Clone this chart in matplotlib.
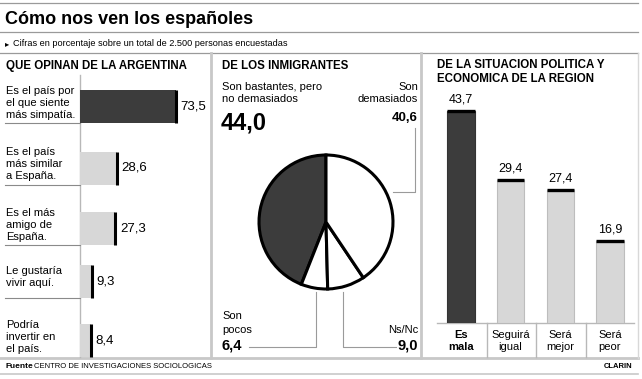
import matplotlib
matplotlib.use("Agg")
from matplotlib import pyplot as plt

plt.rcParams['font.family'] = ['Liberation Sans Narrow', 'Liberation Sans', 'DejaVu Sans']

# data
opinion_labels = ["Es el país por\nel que siente\nmás simpatía.",
                  "Es el país\nmás similar\na España.",
                  "Es el más\namigo de\nEspaña.",
                  "Le gustaría\nvivir aquí.",
                  "Podría\ninvertir en\nel país."]
opinion_values = [73.5, 28.6, 27.3, 9.3, 8.4]

immig_labels = ["Son bastantes, pero\nno demasiados", "Son\npocos", "Ns/Nc", "Son\ndemasiados"]
immig_values = [44.0, 6.4, 9.0, 40.6]

region_labels = ["Es\nmala", "Seguirá\nigual", "Será\nmejor", "Será\npeor"]
region_values = [43.7, 29.4, 27.4, 16.9]

DARK = "#3c3c3c"
LIGHT = "#d7d7d7"
GRID = "#b8b8b8"
W, H = 642, 379


def fmt(v):
    return f"{v:.1f}".replace(".", ",")


def px_axes(x0, y0, x1, y1):
    return fig.add_axes([x0 / W, 1 - y1 / H, (x1 - x0) / W, (y1 - y0) / H])


fig = plt.figure(figsize=(6.42, 3.79), dpi=100)
fig.patch.set_facecolor("white")

# overlay in pixel coordinates for frame, texts
ov = fig.add_axes([0, 0, 1, 1])
ov.set_xlim(0, W)
ov.set_ylim(H, 0)
ov.axis("off")

for y in [3, 32, 53]:
    ov.plot([0, 638], [y, y], color="#9a9a9a", lw=0.9)
ov.plot([0, 638], [358, 358], color="#c8c8c8", lw=2)
ov.plot([0, 638], [374, 374], color="#c8c8c8", lw=1.2)
for x in [211, 421]:
    ov.plot([x, x], [53, 358], color="#c8c8c8", lw=2)
ov.plot([638, 638], [53, 358], color="#d8d8d8", lw=1)

ov.text(5, 19, "Cómo nos ven los españoles", fontsize=13, fontweight="bold", va="center")
ov.text(5, 43.5, "▸", fontsize=6, va="center", family="DejaVu Sans")
ov.text(13, 43.5, "Cifras en porcentaje sobre un total de 2.500 personas encuestadas", fontsize=6.6, va="center")
ov.text(5, 366, "Fuente", fontsize=6, fontweight="bold", va="center")
ov.text(34, 366, "CENTRO DE INVESTIGACIONES SOCIOLOGICAS", fontsize=5.5, va="center")
ov.text(632, 366, "CLARIN", fontsize=5.5, fontweight="bold", va="center", ha="right")

# ---- left panel
ov.text(6, 66, "QUE OPINAN DE LA ARGENTINA", fontsize=8.3, fontweight="bold", va="center")
bar_centers = [106.5, 168, 228.5, 281, 340.5]
bar_h = 33
ov.plot([80, 80], [75, 357], color=GRID, lw=1)
for i, lab in enumerate(opinion_labels):
    c = bar_centers[i]
    ov.text(6, c - 4, lab, fontsize=8, va="center", linespacing=1.25)
    if i < len(opinion_labels) - 1:
        ov.plot([5, 80], [c + bar_h / 2, c + bar_h / 2], color="#8a8a8a", lw=0.8)

axl = px_axes(80, 53, 210, 358)
axl.set_xlim(0, 100)
axl.set_ylim(358, 53)
axl.axis("off")
colors = [DARK] + [LIGHT] * (len(opinion_values) - 1)
axl.barh(bar_centers, opinion_values, height=bar_h, color=colors, edgecolor="none")
for c, v in zip(bar_centers, opinion_values):
    axl.plot([v, v], [c - bar_h / 2, c + bar_h / 2], color="black", lw=2.2, solid_capstyle="butt")
    axl.text(v + 3.5, c, fmt(v), fontsize=9.5, va="center")

# ---- middle panel
ov.text(222, 66, "DE LOS INMIGRANTES", fontsize=8.3, fontweight="bold", va="center")
axp = px_axes(326 - 69, 222 - 69, 326 + 69, 222 + 69)
axp.pie(immig_values, colors=[DARK, "white", "white", "white"], startangle=90,
        counterclock=True, radius=1,
        wedgeprops=dict(edgecolor="black", linewidth=2.2))
axp.set_xlim(-1.03, 1.03)
axp.set_ylim(-1.03, 1.03)
axp.set_aspect("equal")

ov.text(222, 82, immig_labels[0], fontsize=8, va="top", linespacing=1.25)
ov.text(221, 123, fmt(immig_values[0]), fontsize=17, fontweight="bold", va="center")
ov.text(418, 82, immig_labels[3], fontsize=8, va="top", ha="right", linespacing=1.25)
ov.text(418, 118, fmt(immig_values[3]), fontsize=9.5, fontweight="bold", va="center", ha="right")
ov.plot([415, 415, 393], [128, 192, 192], color="#9a9a9a", lw=0.8)

ov.text(222, 323, immig_labels[1], fontsize=8, va="center", linespacing=1.6)
ov.text(222, 346, fmt(immig_values[1]), fontsize=10.5, fontweight="bold", va="center")
ov.plot([316, 316, 249], [292, 347, 347], color="#9a9a9a", lw=0.8)
ov.text(418, 330, immig_labels[2], fontsize=8, va="center", ha="right")
ov.text(418, 346, fmt(immig_values[2]), fontsize=10.5, fontweight="bold", va="center", ha="right")
ov.plot([343, 343, 396], [292, 347, 347], color="#9a9a9a", lw=0.8)

# ---- right panel
ov.text(437, 72, "DE LA SITUACION POLITICA Y\nECONOMICA DE LA REGION", fontsize=8.3,
        fontweight="bold", va="center", linespacing=1.2)
axr = px_axes(425, 53, 637, 323)
axr.set_xlim(-0.725, 3.54)
axr.set_ylim(0, 270 / 4.85)
axr.axis("off")
xs = list(range(len(region_values)))
rcolors = [DARK] + [LIGHT] * (len(region_values) - 1)
axr.bar(xs, region_values, width=0.55, color=rcolors, edgecolor=["#333333"] + ["#bdbdbd"] * 3, lw=0.8)
for x, v in zip(xs, region_values):
    axr.plot([x - 0.275, x + 0.275], [v, v], color="black", lw=2.4, solid_capstyle="butt")
    axr.text(x, v + 1.2, fmt(v), fontsize=9, ha="center", va="bottom")

ov.plot([437, 634], [323, 323], color=GRID, lw=1)
for x in [487, 536, 586]:
    ov.plot([x, x], [323, 357], color=GRID, lw=1)
centers = [461.5, 510.5, 560, 610]
for i, (cx, lab) in enumerate(zip(centers, region_labels)):
    ov.text(cx, 341, lab, fontsize=8, ha="center", va="center", linespacing=1.3,
            fontweight="bold" if i == 0 else "normal")

fig.savefig("out.png", dpi=100)
